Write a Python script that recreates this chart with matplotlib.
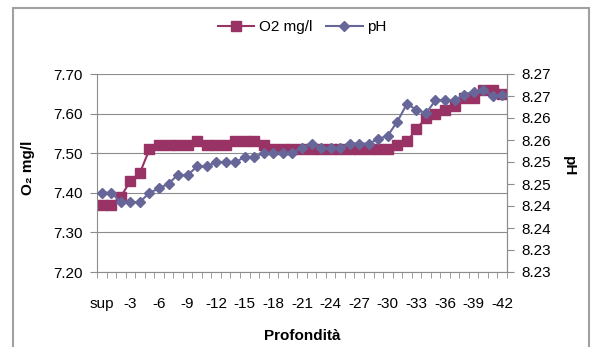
import matplotlib.pyplot as plt
from matplotlib.patches import Rectangle
from matplotlib.ticker import MultipleLocator, FormatStrFormatter

# Profili in colonna: ossigeno disciolto e pH dalla superficie a -42
profondita = ["sup"] + [str(-i) for i in range(1, 43)]

o2 = [7.37, 7.37, 7.39, 7.43, 7.45, 7.51, 7.52, 7.52, 7.52, 7.52,
      7.53, 7.52, 7.52, 7.52, 7.53, 7.53, 7.53, 7.52, 7.51, 7.51,
      7.51, 7.51, 7.51, 7.51, 7.51, 7.51, 7.51, 7.51, 7.51, 7.51,
      7.51, 7.52, 7.53, 7.56, 7.59, 7.60, 7.61, 7.62, 7.64, 7.64,
      7.66, 7.66, 7.65]

ph = [8.2440, 8.2440, 8.2419, 8.2419, 8.2419, 8.2440, 8.2450, 8.2461, 8.2481, 8.2480,
      8.2500, 8.2500, 8.2510, 8.2510, 8.2510, 8.2521, 8.2521, 8.2531, 8.2531, 8.2531,
      8.2531, 8.2542, 8.2552, 8.2542, 8.2542, 8.2542, 8.2552, 8.2552, 8.2552, 8.2562,
      8.2570, 8.2602, 8.2642, 8.2629, 8.2621, 8.2650, 8.2650, 8.2650, 8.2663, 8.2670,
      8.2674, 8.2661, 8.2663]

plt.rcParams['font.family'] = ['Liberation Sans', 'DejaVu Sans']
plt.rcParams['font.size'] = 11

grigio = '#8c8c8c'

fig = plt.figure(figsize=(5.91, 3.47), dpi=100)
ax = fig.add_axes([97 / 591, 1 - 272 / 347, 410 / 591, 198 / 347])

x = list(range(len(profondita)))
l1, = ax.plot(x, o2, color='#993366', marker='s', ms=7, lw=1.5,
              mec='#993366', label='O2 mg/l')

ax.set_xlim(-0.5, len(profondita) - 0.5)
ax.set_ylim(7.2, 7.7)
ax.yaxis.set_major_locator(MultipleLocator(0.1))
ax.yaxis.set_major_formatter(FormatStrFormatter('%.2f'))
ax.grid(axis='y', color=grigio, lw=0.8)
ax.set_axisbelow(True)

ax.set_xticks(x[::3])
ax.set_xticklabels(profondita[::3])
ax.set_xticks([i - 0.5 for i in range(len(profondita) + 1)], minor=True)
ax.tick_params(axis='x', which='major', length=0, pad=18)
ax.tick_params(axis='x', which='minor', length=4, color=grigio)
ax.tick_params(axis='y', length=5, color=grigio, pad=5)

for lato in ['left', 'bottom', 'right']:
    ax.spines[lato].set_color(grigio)
ax.spines['top'].set_visible(False)

# secondo asse per il pH
ax2 = ax.twinx()
l2, = ax2.plot(x, ph, color='#666699', marker='D', ms=5, lw=1.5,
               mec='#666699', label='pH')
ax2.set_ylim(8.226, 8.271)
ax2.set_yticks([8.226 + 0.005 * i for i in range(10)])
ax2.yaxis.set_major_formatter(FormatStrFormatter('%.2f'))
ax2.tick_params(axis='y', length=5, color=grigio, pad=5)
ax2.spines['right'].set_color(grigio)
ax2.spines['top'].set_visible(False)
ax2.spines['left'].set_visible(False)
ax2.spines['bottom'].set_visible(False)

fig.legend(handles=[l1, l2], loc='center', bbox_to_anchor=(302 / 591, 1 - 27 / 347),
           ncol=2, frameon=False, handlelength=2.4, handletextpad=0.3,
           columnspacing=0.9)

fig.text(28 / 591, 1 - 168 / 347, 'O₂ mg/l', rotation=90, ha='center', va='center',
         fontweight='bold')
fig.text(569 / 591, 1 - 166 / 347, 'pH', rotation=270, ha='center', va='center',
         fontweight='bold')
fig.text(302 / 591, 1 - 336 / 347, 'Profondità', ha='center', va='center',
         fontweight='bold')

# cornice esterna del grafico
fig.add_artist(Rectangle((12.5 / 591, -0.05), (589 - 12.5) / 591, 1.05 - 8 / 347,
                         transform=fig.transFigure, fill=False, ec='#a0a0a0',
                         lw=1.5, clip_on=False))

fig.savefig('out.png', dpi=100)
